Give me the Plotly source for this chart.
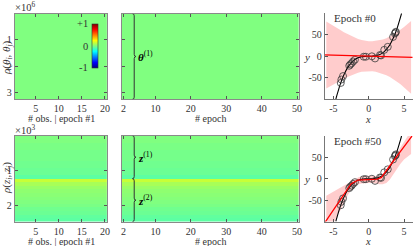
import plotly.graph_objects as go

# ---------------- data ----------------
obs_index = list(range(1, 21))                  # "# obs. | epoch #1"
epoch_index = list(range(1, 51))                # "# epoch"
epoch_tickvals = [1, 10, 20, 30, 40, 50]
epoch_ticktext = ["2", "10", "20", "30", "40", "50"]

theta_dim = 3.27          # x10^6 parameters
z_dim = 2.46              # x10^3 latent units
z_group_edges = [0.0, 1.23, 2.46]

# correlation profile along parameter axis (top -> bottom), values in [-1, 1]
rho_theta_profile = [0.0, 0.0, 0.0, 0.0, 0.0, 0.0, 0.0, 0.0]
rho_z_profile = [0.0, 0.0, -0.01, -0.01, -0.02, -0.02, -0.02, -0.03, -0.03, -0.04, -0.04, -0.07,
                 0.14, 0.08, 0.05, 0.03, 0.02, 0.01, 0.0, -0.01, -0.03, -0.04, -0.06, -0.07]

theta_ticks = [1, 2, 3]
z_ticks = [1, 2]

# regression data
data_x = [-3.95, -3.86, -3.63, -2.75, -2.6, -2.41, -2.2, -1.95, -0.7, -0.4,
          0.45, 0.9, 1.6, 1.75, 2.2, 2.7, 3.45, 3.7, 3.8, 3.85]
data_y = [-62, -54, -46, -22, -19, -16, -12, -8, -1, -1,
          0, -5, 3, 2, 15, 22, 45, 53, 55, 57]

truth_x = [-4.65, -4.5, -4.0, -3.5, -3.0, -2.5, -2.0, -1.5, -1.0, -0.5, 0.0,
           0.5, 1.0, 1.5, 2.0, 2.5, 3.0, 3.5, 4.0, 4.5, 4.65]
truth_y = [-100, -91, -64, -43, -27, -16, -8, -3.4, -1, -0.1, 0,
           0.1, 1, 3.4, 8, 16, 27, 43, 64, 91, 100]

band_x = [-6, -5, -4, -3.5, -3, -2.5, -2, -1.5, -1, -0.5, 0, 0.5, 1, 1.5, 2, 2.5, 3, 3.5, 4, 4.5, 5, 5.5, 6]

mean0_x = [-6.5, 6.5]
mean0_y = [3.3, -2.8]
upper0 = [81, 70, 61, 56, 52, 47, 43, 40, 38, 36, 35, 35, 36, 37, 39, 42, 46, 51, 56, 61, 68, 75, 82]
lower0 = [-75, -66, -57, -52, -48, -45, -41, -38, -36, -35, -35, -35, -36, -38, -41, -44, -48, -53, -59, -65, -72, -79, -87]

mean50_x = [-6.5, -4, -3.2, -2.5, -1.5, 0, 1.2, 1.8, 2.6, 3.5, 4, 6.5]
mean50_y = [-110, -50, -28, -12, -3, -1, -1, 3, 22, 42, 53, 108]
upper50 = [-40, -30, -20, -15, -10, -6, -1, 3, 6, 7, 7, 7, 6, 5, 12, 22, 35, 48, 62, 76, 88, 100, 112]
lower50 = [-135, -110, -75, -58, -40, -26, -17, -13, -11, -10, -10, -10, -11, -13, -13, -10, -2, 8, 22, 35, 45, 52, 58]

xy_ticks = [-5, 0, 5]
y_ticks = [-50, 0, 50]
y_ticktext = ["-50", "0", "50"]

# ---------------- style ----------------
W, H = 416, 246
FONT = "Liberation Serif"
TXT = "#333333"
FRAME = "#8a8a8a"

jet = [[0.0, "rgb(0,0,128)"], [0.125, "rgb(0,0,255)"], [0.375, "rgb(0,255,255)"],
       [0.625, "rgb(255,255,0)"], [0.875, "rgb(255,0,0)"], [1.0, "rgb(128,0,0)"]]


def px_x(a, b):
    return [a / W, b / W]


def px_y(top, bottom):
    return [1 - bottom / H, 1 - top / H]


fig = go.Figure()


def heat(profile, cols, total, xa, ya):
    n = len(profile)
    z = [[v] * len(cols) for v in profile]
    fig.add_trace(go.Heatmap(z=z, x=cols, y0=total / n / 2, dy=total / n,
                             coloraxis="coloraxis", xaxis=xa, yaxis=ya,
                             hoverinfo="skip"))


heat(rho_theta_profile, obs_index, theta_dim, "x", "y")
heat(rho_theta_profile, epoch_index, theta_dim, "x2", "y2")
heat(rho_z_profile, obs_index, z_dim, "x4", "y4")
heat(rho_z_profile, epoch_index, z_dim, "x5", "y5")


def reg_panel(xa, ya, upper, lower, mx, my):
    fig.add_trace(go.Scatter(x=band_x + band_x[::-1], y=upper + lower[::-1], fill="toself",
                             fillcolor="rgba(255,0,0,0.2)", line=dict(width=0),
                             mode="lines", xaxis=xa, yaxis=ya, hoverinfo="skip"))
    fig.add_trace(go.Scatter(x=truth_x, y=truth_y, mode="lines", line=dict(color="black", width=1.1, shape="spline"),
                             xaxis=xa, yaxis=ya))
    fig.add_trace(go.Scatter(x=data_x, y=data_y, mode="markers",
                             marker=dict(symbol="circle-open", size=7, color="#3a3a3a", line=dict(width=0.8)),
                             xaxis=xa, yaxis=ya))
    fig.add_trace(go.Scatter(x=mx, y=my, mode="lines", line=dict(color="red", width=1.3),
                             xaxis=xa, yaxis=ya))


reg_panel("x3", "y3", upper0, lower0, mean0_x, mean0_y)
reg_panel("x6", "y6", upper50, lower50, mean50_x, mean50_y)

tickfont = dict(family=FONT, size=10, color=TXT)
heat_common = dict(showline=True, linecolor=FRAME, linewidth=1, mirror="allticks", ticks="inside",
                   ticklen=3, tickcolor="#555555", tickwidth=0.8, showgrid=False, zeroline=False,
                   tickfont=tickfont)
reg_common = dict(showline=True, linecolor="#777777", linewidth=1, ticks="inside", ticklen=3,
                  tickcolor="#555555", tickwidth=0.8, showgrid=False, zeroline=False, tickfont=tickfont)

dA = px_x(14, 107.3)
dB = px_x(122, 300.7)
dC = px_x(327, 415.5)
top_y = px_y(13.7, 99.3)
topC_y = px_y(13.3, 99.3)
bot_y = px_y(135.7, 221.7)
botC_y = px_y(136, 221.5)

fig.update_layout(
    width=W, height=H, margin=dict(l=0, r=0, t=0, b=0),
    paper_bgcolor="white", plot_bgcolor="white", showlegend=False,
    font=dict(family=FONT, color=TXT, size=11),
    coloraxis=dict(colorscale=jet, cmin=-1, cmax=1,
                   colorbar=dict(x=91.7 / W, xanchor="left", y=1 - 46 / H, yanchor="middle",
                                 len=44, lenmode="pixels", thickness=6, thicknessmode="pixels",
                                 xpad=0, ypad=0, outlinewidth=0.6, outlinecolor="#333333",
                                 showticklabels=False, ticks="")),
    xaxis=dict(domain=dA, range=[0.5, 20.5], tickvals=[5, 10, 15, 20], anchor="y", **heat_common),
    yaxis=dict(domain=top_y, range=[theta_dim, 0], tickvals=theta_ticks, anchor="x", **heat_common),
    xaxis2=dict(domain=dB, range=[0.5, 50.5], tickvals=epoch_tickvals, ticktext=epoch_ticktext, anchor="y2", **heat_common),
    yaxis2=dict(domain=top_y, range=[theta_dim, 0], tickvals=theta_ticks, showticklabels=False, anchor="x2", **heat_common),
    xaxis3=dict(domain=dC, range=[-6.2, 6.2], tickvals=xy_ticks, ticktext=["-5", "0", "5"], anchor="y3", **reg_common),
    yaxis3=dict(domain=topC_y, range=[-100, 100], tickvals=y_ticks, ticktext=y_ticktext, anchor="x3", **reg_common),
    xaxis4=dict(domain=dA, range=[0.5, 20.5], tickvals=[5, 10, 15, 20], anchor="y4", **heat_common),
    yaxis4=dict(domain=bot_y, range=[z_dim, 0], tickvals=z_ticks, anchor="x4", **heat_common),
    xaxis5=dict(domain=dB, range=[0.5, 50.5], tickvals=epoch_tickvals, ticktext=epoch_ticktext, anchor="y5", **heat_common),
    yaxis5=dict(domain=bot_y, range=[z_dim, 0], tickvals=z_ticks, showticklabels=False, anchor="x5", **heat_common),
    xaxis6=dict(domain=dC, range=[-6.2, 6.2], tickvals=xy_ticks, ticktext=["-5", "0", "5"], anchor="y6", **reg_common),
    yaxis6=dict(domain=botC_y, range=[-100, 100], tickvals=y_ticks, ticktext=y_ticktext, anchor="x6", **reg_common),
)

ann = []


def A(text, x, y, size=11, xanchor="center", yanchor="middle", angle=0, xref="paper", yref="paper", color=TXT):
    if xref == "paper":
        x = x / W
    if yref == "paper":
        y = 1 - y / H
    ann.append(dict(text=text, x=x, y=y, xref=xref, yref=yref, showarrow=False, xanchor=xanchor,
                    yanchor=yanchor, textangle=angle, font=dict(family=FONT, size=size, color=color)))


A("×10<sup>6</sup>", 12, 15, size=10.5, xanchor="left", yanchor="bottom")
A("×10<sup>3</sup>", 12, 138, size=10.5, xanchor="left", yanchor="bottom")
A("<i>ρ</i>(<i>θ<sub>i</sub></i>, <i>θ<sub>j</sub></i>)", 6, 57, angle=-90)
A("<i>ρ</i>(<i>z<sub>i</sub></i>, <i>z<sub>j</sub></i>)", 6, 178, angle=-90)
A("# obs. | epoch #1", 61, 118, size=10)
A("# obs. | epoch #1", 61, 241, size=10)
A("# epoch", 212, 118, size=10)
A("# epoch", 212, 241, size=10)
A("<i>x</i>", 371, 119.5, size=10.5)
A("<i>x</i>", 371, 241, size=10.5)
A("<i>y</i>", 309, 57)
A("<i>y</i>", 309, 179)
A("Epoch #0", 334, 18, xanchor="left")
A("Epoch #50", 334, 141, xanchor="left")
A("+1", 90, 24, xanchor="right", size=10.5)
A("0", 90, 46, xanchor="right", size=10.5)
A("-1", 90, 68, xanchor="right", size=10.5)

# brackets on the middle heatmaps
brace_x = 4.0
shapes = []


def brace(xref, yref, y0, y1, label, dpx):
    mid = (y0 + y1) / 2
    d = dpx
    path = (f"M {brace_x - 0.5},{y0} Q {brace_x},{y0} {brace_x},{y0 + d} "
            f"L {brace_x},{mid - d} Q {brace_x},{mid} {brace_x + 0.5},{mid} "
            f"Q {brace_x},{mid} {brace_x},{mid + d} L {brace_x},{y1 - d} "
            f"Q {brace_x},{y1} {brace_x - 0.5},{y1}")
    shapes.append(dict(type="path", path=path, xref=xref, yref=yref,
                       line=dict(color="#333333", width=1)))
    ann.append(dict(text=label, x=brace_x + 0.6, y=mid, xref=xref, yref=yref, showarrow=False,
                    xanchor="left", yanchor="middle", font=dict(family=FONT, size=11, color="black")))


brace("x2", "y2", 0, theta_dim, "<b><i>θ</i></b><sup>(1)</sup>", 0.08)
for g in range(len(z_group_edges) - 1):
    brace("x5", "y5", z_group_edges[g], z_group_edges[g + 1],
          f"<b><i>z</i></b><sup>({g + 1})</sup>", 0.06)

fig.update_layout(annotations=ann, shapes=shapes)
fig.write_html("out.html", config={"displayModeBar": False},
               post_script="document.body.style.margin='0px';document.body.style.padding='0px';")
